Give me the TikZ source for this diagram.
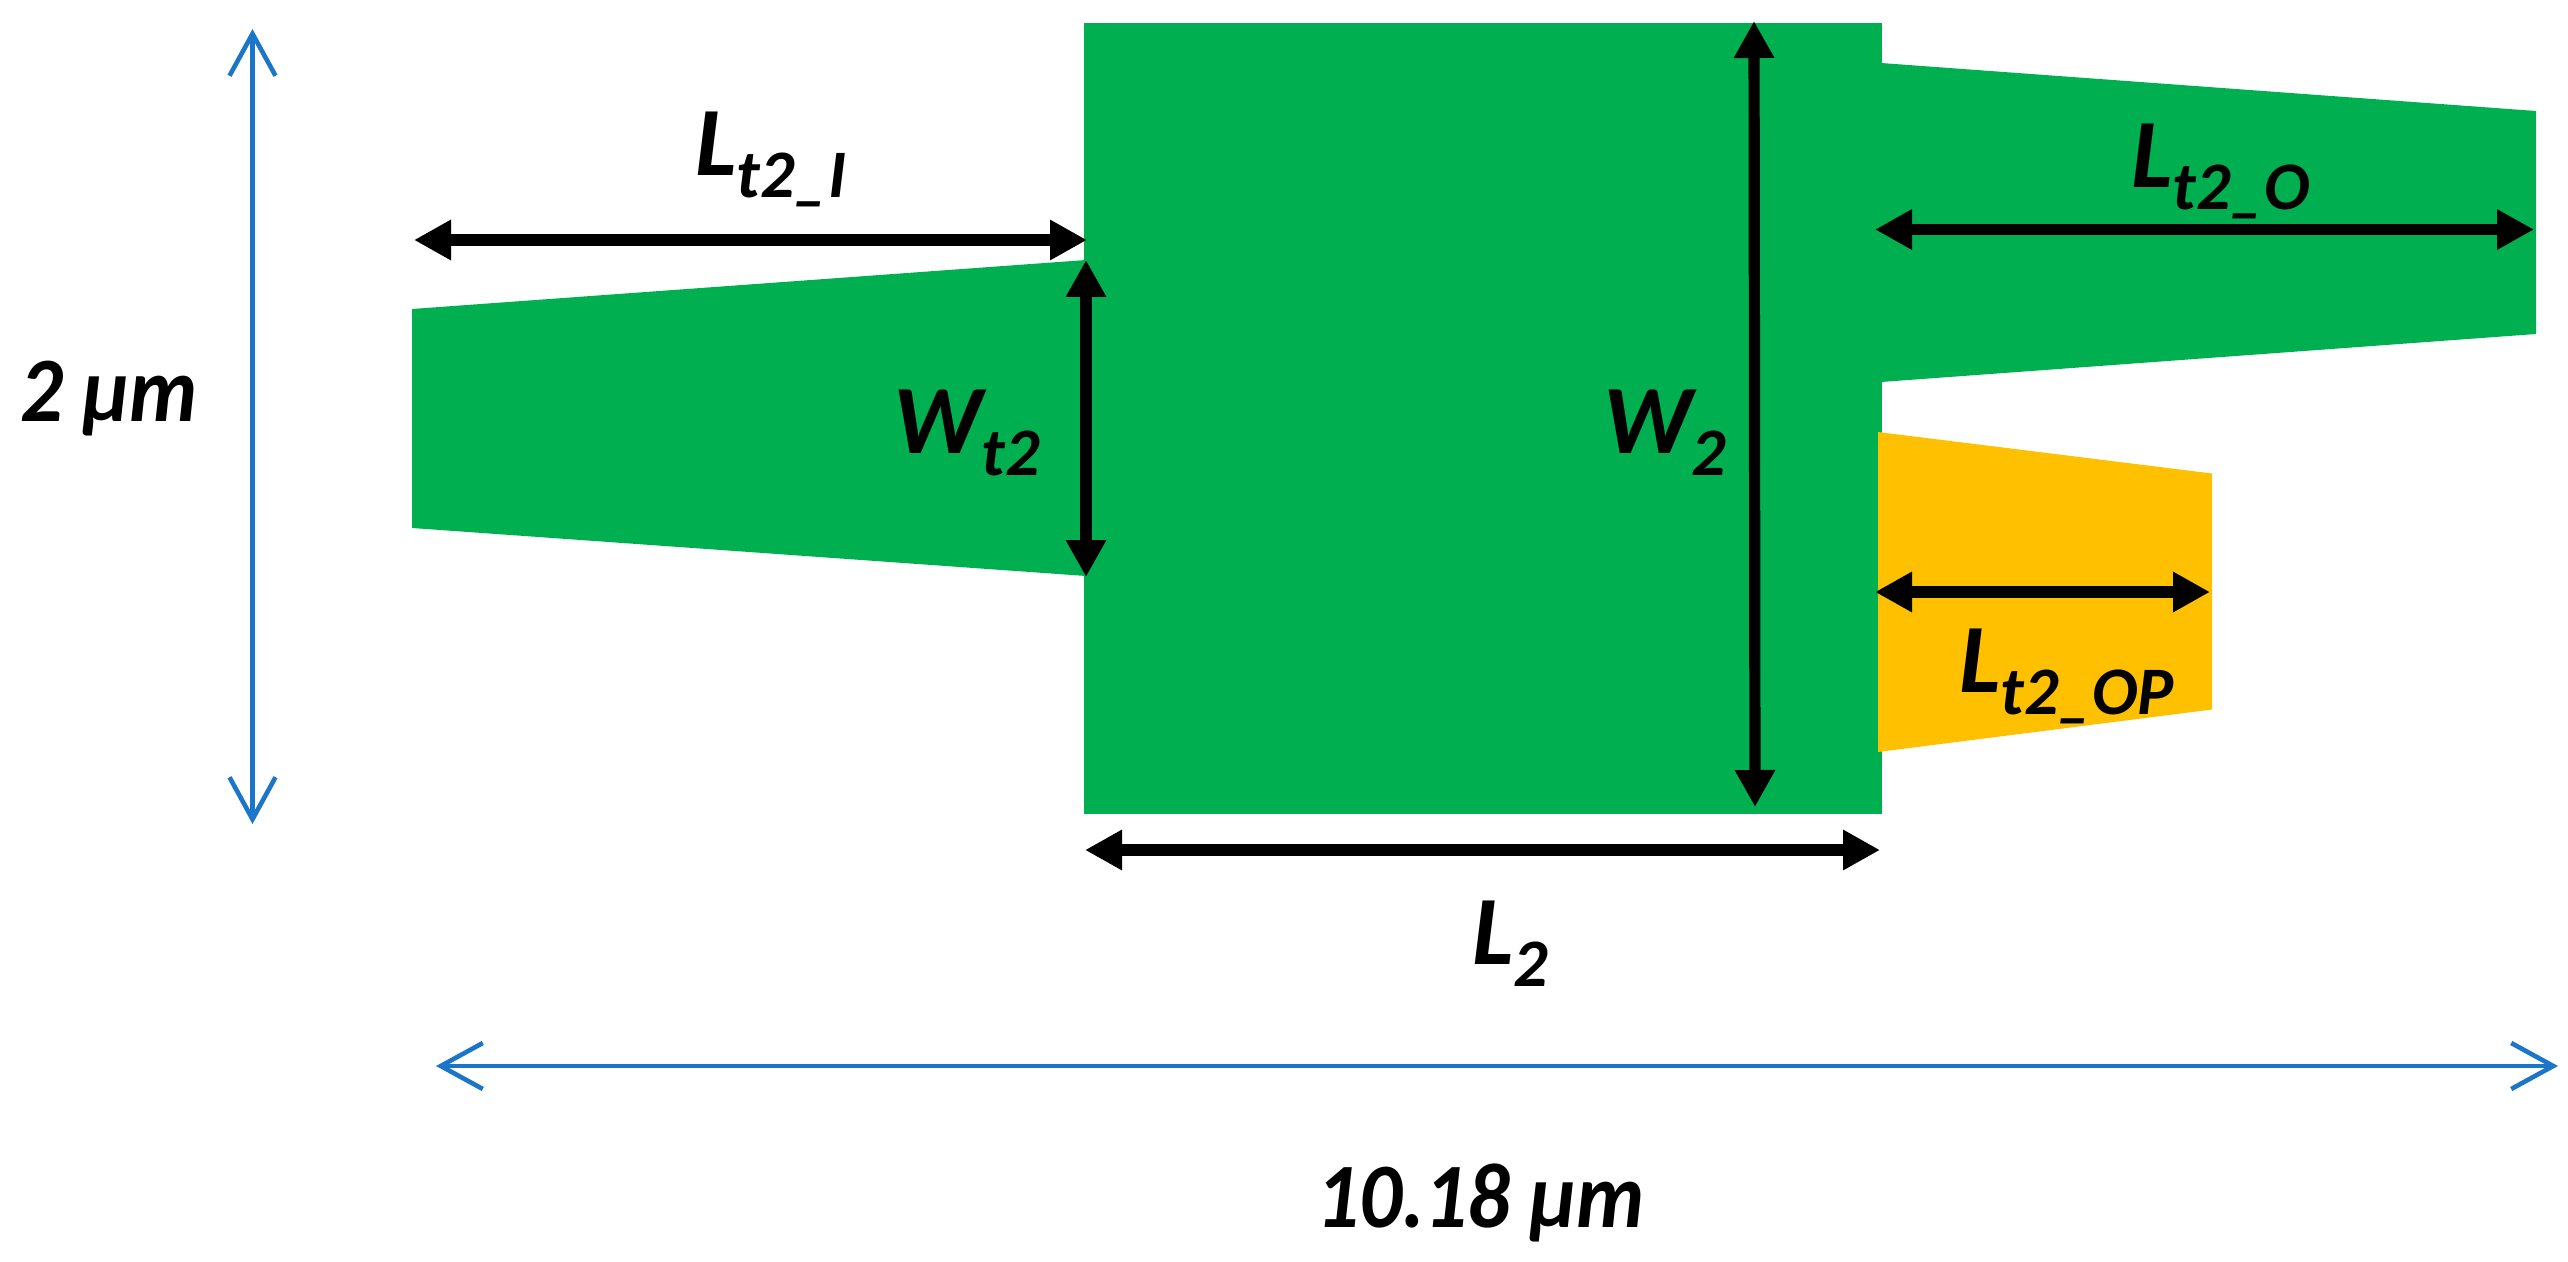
\documentclass[tikz,border=0pt]{standalone}
\usepackage{fontspec}
\setmainfont{Carlito}
\usetikzlibrary{arrows.meta}
\definecolor{chipgreen}{HTML}{00B050}
\definecolor{chipyellow}{HTML}{FFC000}
\definecolor{dimblue}{HTML}{1B75C9}
\newcommand{\lbl}[2]{{\fontsize{49pt}{49pt}\selectfont\bfseries\itshape #1}\raisebox{-11pt}{\fontsize{34pt}{34pt}\selectfont\bfseries\itshape #2}}
\newcommand{\biglbl}[1]{\scalebox{0.975}[1.06]{\fontsize{43.5pt}{43.5pt}\selectfont\bfseries\itshape #1}}
\tikzset{
  x=0.5pt,y=-0.5pt,
  pt/.style={inner sep=0pt,outer sep=0pt,minimum size=0pt},
  dimblack/.style={line width=5.6pt,black,{Triangle[length=18.5pt,width=19pt]}-{Triangle[length=18.5pt,width=19pt]}},
  dimthin/.style={line width=2.3pt,dimblue,line cap=round,{Straight Barb[length=21pt,width=23pt]}-{Straight Barb[length=21pt,width=23pt]}},
  lab/.style={inner sep=0pt,outer sep=0pt,anchor=base west,text=black}
}
\begin{document}
\begin{tikzpicture}
\useasboundingbox (0,0) rectangle (2568,1262);
% shapes
\fill[chipgreen] (412,309) -- (1086,260) -- (1086,576) -- (412,528) -- cycle;
\fill[chipgreen] (1881,63) -- (2536,111) -- (2536,334) -- (1881,382) -- cycle;
\fill[chipgreen] (1084,23) rectangle (1881.5,814);
\fill[chipyellow] (1878,432) -- (2212,473.5) -- (2212,709.5) -- (1878,752) -- cycle;
% connector ends
\coordinate (ltiA) at (414,240);
\coordinate (ltiB) at (1087,240);
\coordinate (wtA) at (1086,260);
\coordinate (wtB) at (1086,577);
\coordinate (wA) at (1754,21);
\coordinate (wB) at (1755,807);
\coordinate (ltoA) at (1875,229.5);
\coordinate (ltoB) at (2534,229.5);
\coordinate (ltpA) at (1875,592);
\coordinate (ltpB) at (2210,592);
\coordinate (lA) at (1085,850);
\coordinate (lB) at (1880,850);
\coordinate (hA) at (252.5,29);
\coordinate (hB) at (252.5,824);
\coordinate (wdA) at (436,1066);
\coordinate (wdB) at (2558,1066);
% connectors
\draw[dimblack] (ltiA) -- (ltiB);
\draw[dimblack] (wtA) -- (wtB);
\draw[dimblack] (wA) -- (wB);
\draw[dimblack] (ltoA) -- (ltoB);
\draw[dimblack] (ltpA) -- (ltpB);
\draw[dimblack] (lA) -- (lB);
\draw[dimthin] (hA) -- (hB);
\draw[dimthin] (wdA) -- (wdB);
% labels
\node[lab] (tLti) at (695,175.5) {\lbl{L}{t2\_I}};
\node[lab] (tWt) at (893,453) {\lbl{W}{t2}};
\node[lab] (tW) at (1603,453.5) {\lbl{W}{2}};
\node[lab] (tLto) at (2131,187.5) {\lbl{L}{t2\_O}};
\node[lab] (tLtp) at (1959,692) {\lbl{L}{t2\_OP}};
\node[lab] (tL) at (1472,964) {\lbl{L}{2}};
\node[lab] (tH) at (20,421.5) {\biglbl{2 µm}};
\node[lab] (tWd) at (1316,1227) {\biglbl{10.18 µm}};
\end{tikzpicture}
\end{document}
